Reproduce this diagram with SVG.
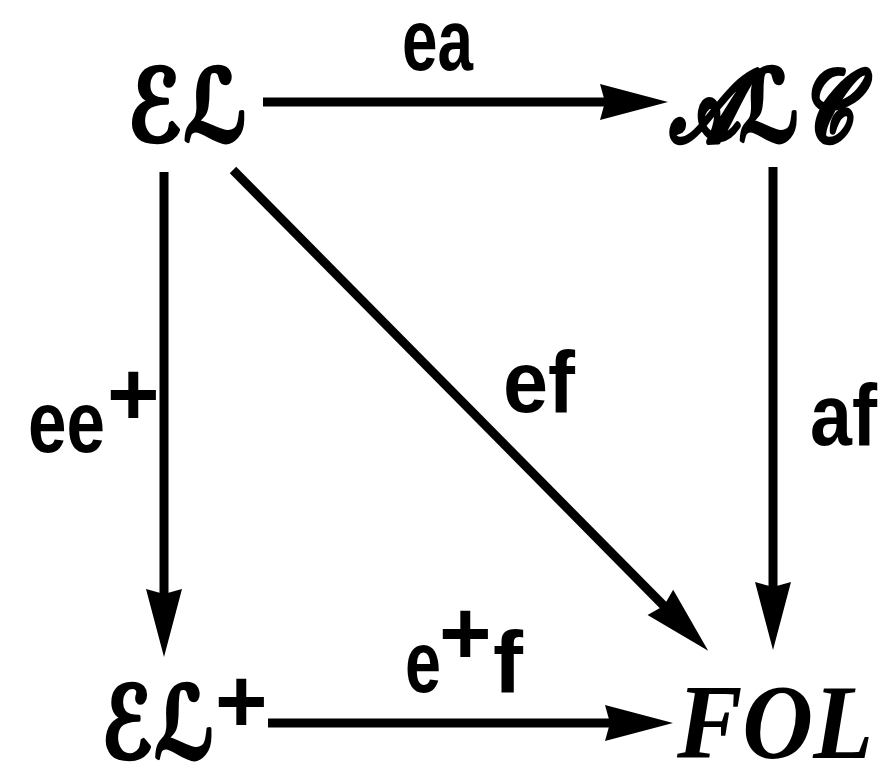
<svg xmlns="http://www.w3.org/2000/svg" width="882" height="774" viewBox="0 0 882 774">
<defs>
<style>
.node{font-family:"DejaVu Serif","DejaVu Sans","Liberation Serif",serif;font-weight:bold;font-style:italic;fill:#000;stroke:#000;stroke-width:4;stroke-linejoin:round}
.fol{font-family:"Liberation Serif","DejaVu Serif",serif;font-weight:bold;font-style:italic;fill:#000}
.lbl{font-family:"Liberation Sans","DejaVu Sans",sans-serif;font-weight:bold;fill:#000}
.edge{stroke:#000;stroke-width:9;fill:none;marker-end:url(#ah)}
</style>
<marker id="ah" markerUnits="userSpaceOnUse" markerWidth="90" markerHeight="50" viewBox="-15 -25 90 50" refX="0" refY="0" orient="auto">
<path d="M60,0 L-8,-18 L-3,0 L-8,18 Z" fill="#000"/>
</marker>
</defs>
<rect width="882" height="774" fill="#fff"/>
<g id="connectors">
<path id="ea" class="edge" d="M263,102 L608,102"/>
<path id="eeplus" class="edge" d="M164,172 L164,597"/>
<path id="ef" class="edge" d="M233,170 L666,608"/>
<path id="af" class="edge" d="M773,167 L773,590"/>
<path id="eplusf" class="edge" d="M268,723 L613,723"/>
</g>
<g id="node-EL"><text class="node" x="128" y="141" font-size="100" textLength="120" lengthAdjust="spacingAndGlyphs">ℰℒ</text></g>
<g id="node-ALC"><text class="node" x="670" y="141" font-size="100" textLength="183" lengthAdjust="spacingAndGlyphs">𝒜ℒ𝒞</text></g>
<g id="node-ELplus"><text class="node" x="102" y="758" font-size="100"><tspan textLength="113" lengthAdjust="spacingAndGlyphs">ℰℒ</tspan></text><text class="lbl" x="215" y="732" font-size="90">+</text></g>
<g id="node-FOL"><text class="fol" x="677" y="758" font-size="105" textLength="196" lengthAdjust="spacingAndGlyphs">FOL</text></g>
<g id="labels">
<text class="lbl" x="402" y="70" font-size="87" textLength="71" lengthAdjust="spacingAndGlyphs">ea</text>
<text class="lbl" x="503" y="412" font-size="87" textLength="72" lengthAdjust="spacingAndGlyphs">ef</text>
<text class="lbl" x="810" y="445" font-size="87" textLength="67" lengthAdjust="spacingAndGlyphs">af</text>
<text class="lbl" font-size="87"><tspan x="28" y="452" textLength="77" lengthAdjust="spacingAndGlyphs">ee</tspan><tspan x="107" y="425" font-size="90">+</tspan></text>
<text class="lbl" font-size="87"><tspan x="405" y="692" textLength="36" lengthAdjust="spacingAndGlyphs">e</tspan><tspan x="439" y="664" font-size="90">+</tspan><tspan x="493" y="692" textLength="30" lengthAdjust="spacingAndGlyphs">f</tspan></text>
</g>
</svg>
